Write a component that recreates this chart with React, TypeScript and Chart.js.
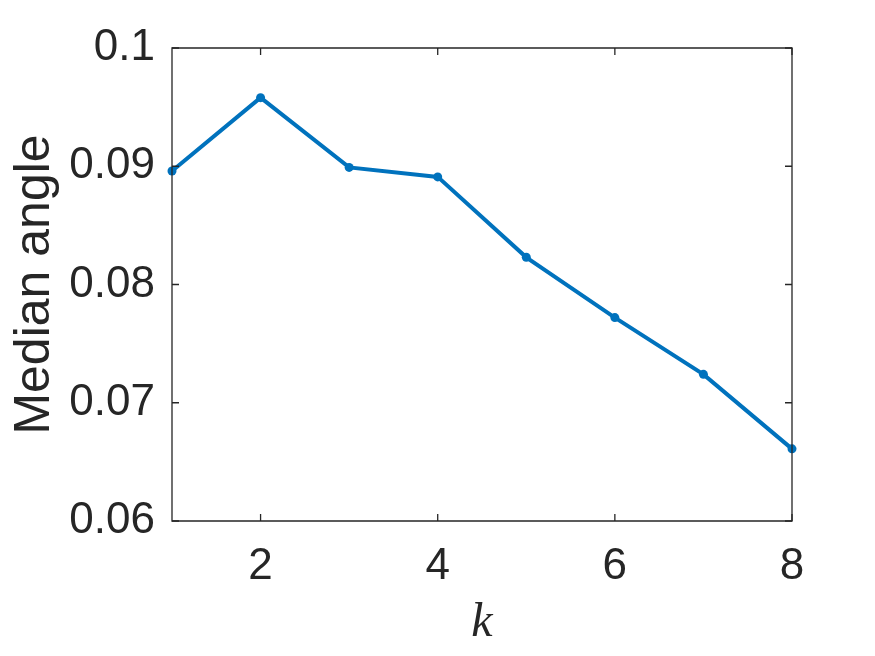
import React, { useEffect, useRef } from "react";
import { Chart, registerables } from "chart.js";

Chart.register(...registerables);

const K_VALUES = [1, 2, 3, 4, 5, 6, 7, 8];
const MEDIAN_ANGLE = [0.0896, 0.0958, 0.0899, 0.0891, 0.0823, 0.0772, 0.0724, 0.0661];
const X_TICKS = [2, 4, 6, 8];
const Y_TICKS = [0.06, 0.07, 0.08, 0.09, 0.1];
const Y_TICK_LABELS = ["0.06", "0.07", "0.08", "0.09", "0.1"];

const boxPlugin = {
  id: "matlabBox",
  afterDraw(chart: any) {
    const { ctx, chartArea } = chart;
    const { left, right, top, bottom } = chartArea;
    const xs = chart.scales.x;
    const ys = chart.scales.y;
    ctx.save();
    ctx.strokeStyle = "#262626";
    ctx.lineWidth = 1.3;
    ctx.beginPath();
    ctx.rect(left, top, right - left, bottom - top);
    ctx.stroke();
    const L = 7;
    ctx.beginPath();
    for (const v of X_TICKS) {
      const px = xs.getPixelForValue(v);
      ctx.moveTo(px, bottom);
      ctx.lineTo(px, bottom - L);
      ctx.moveTo(px, top);
      ctx.lineTo(px, top + L);
    }
    for (const v of Y_TICKS) {
      const py = ys.getPixelForValue(v);
      ctx.moveTo(left, py);
      ctx.lineTo(left + L, py);
      ctx.moveTo(right, py);
      ctx.lineTo(right - L, py);
    }
    ctx.stroke();
    ctx.restore();
  },
};

export default function App() {
  const ref = useRef<HTMLCanvasElement>(null);
  useEffect(() => {
    document.body.style.margin = "0";
    const canvas = ref.current!;
    const chart = new Chart(canvas, {
      type: "line",
      data: {
        datasets: [
          {
            data: K_VALUES.map((k, i) => ({ x: k, y: MEDIAN_ANGLE[i] })),
            borderColor: "#0072BD",
            backgroundColor: "#0072BD",
            borderWidth: 4,
            pointRadius: 4.5,
            pointBorderWidth: 0,
            tension: 0,
            clip: false as any,
          },
        ],
      },
      options: {
        animation: false,
        responsive: false,
        events: [],
        layout: { padding: { top: 48, right: 83, left: 0, bottom: 0 } },
        plugins: { legend: { display: false }, tooltip: { enabled: false } },
        scales: {
          x: {
            type: "linear",
            min: 1,
            max: 8,
            grid: { display: false, drawTicks: false },
            border: { display: false },
            afterBuildTicks: (s: any) => {
              s.ticks = X_TICKS.map((v) => ({ value: v }));
            },
            afterFit: (s: any) => {
              s.height = 135;
            },
            ticks: {
              padding: 19,
              color: "#262626",
              font: { family: "'Liberation Sans', Arial, sans-serif", size: 44 },
              callback: (v: any) => String(v),
              maxRotation: 0,
            },
            title: {
              display: true,
              text: "k",
              color: "#262626",
              font: { family: "'Liberation Serif', 'Times New Roman', serif", size: 48, style: "italic" },
              padding: { top: 0, bottom: 4 },
            },
          },
          y: {
            type: "linear",
            min: 0.06,
            max: 0.1,
            grid: { display: false, drawTicks: false },
            border: { display: false },
            afterBuildTicks: (s: any) => {
              s.ticks = Y_TICKS.map((v) => ({ value: v }));
            },
            afterFit: (s: any) => {
              s.width = 172;
            },
            ticks: {
              padding: 17,
              color: "#262626",
              font: { family: "'Liberation Sans', Arial, sans-serif", size: 44 },
              callback: (v: any) => {
                const i = Y_TICKS.findIndex((t) => Math.abs(t - v) < 1e-9);
                return i >= 0 ? Y_TICK_LABELS[i] : "";
              },
            },
            title: {
              display: true,
              text: "Median angle",
              color: "#262626",
              font: { family: "'Liberation Sans', Arial, sans-serif", size: 50 },
              padding: { top: 5, bottom: 0 },
            },
          },
        },
      },
      plugins: [boxPlugin],
    });
    return () => chart.destroy();
  }, []);
  return <canvas ref={ref} width={875} height={656} style={{ display: "block" }} />;
}
